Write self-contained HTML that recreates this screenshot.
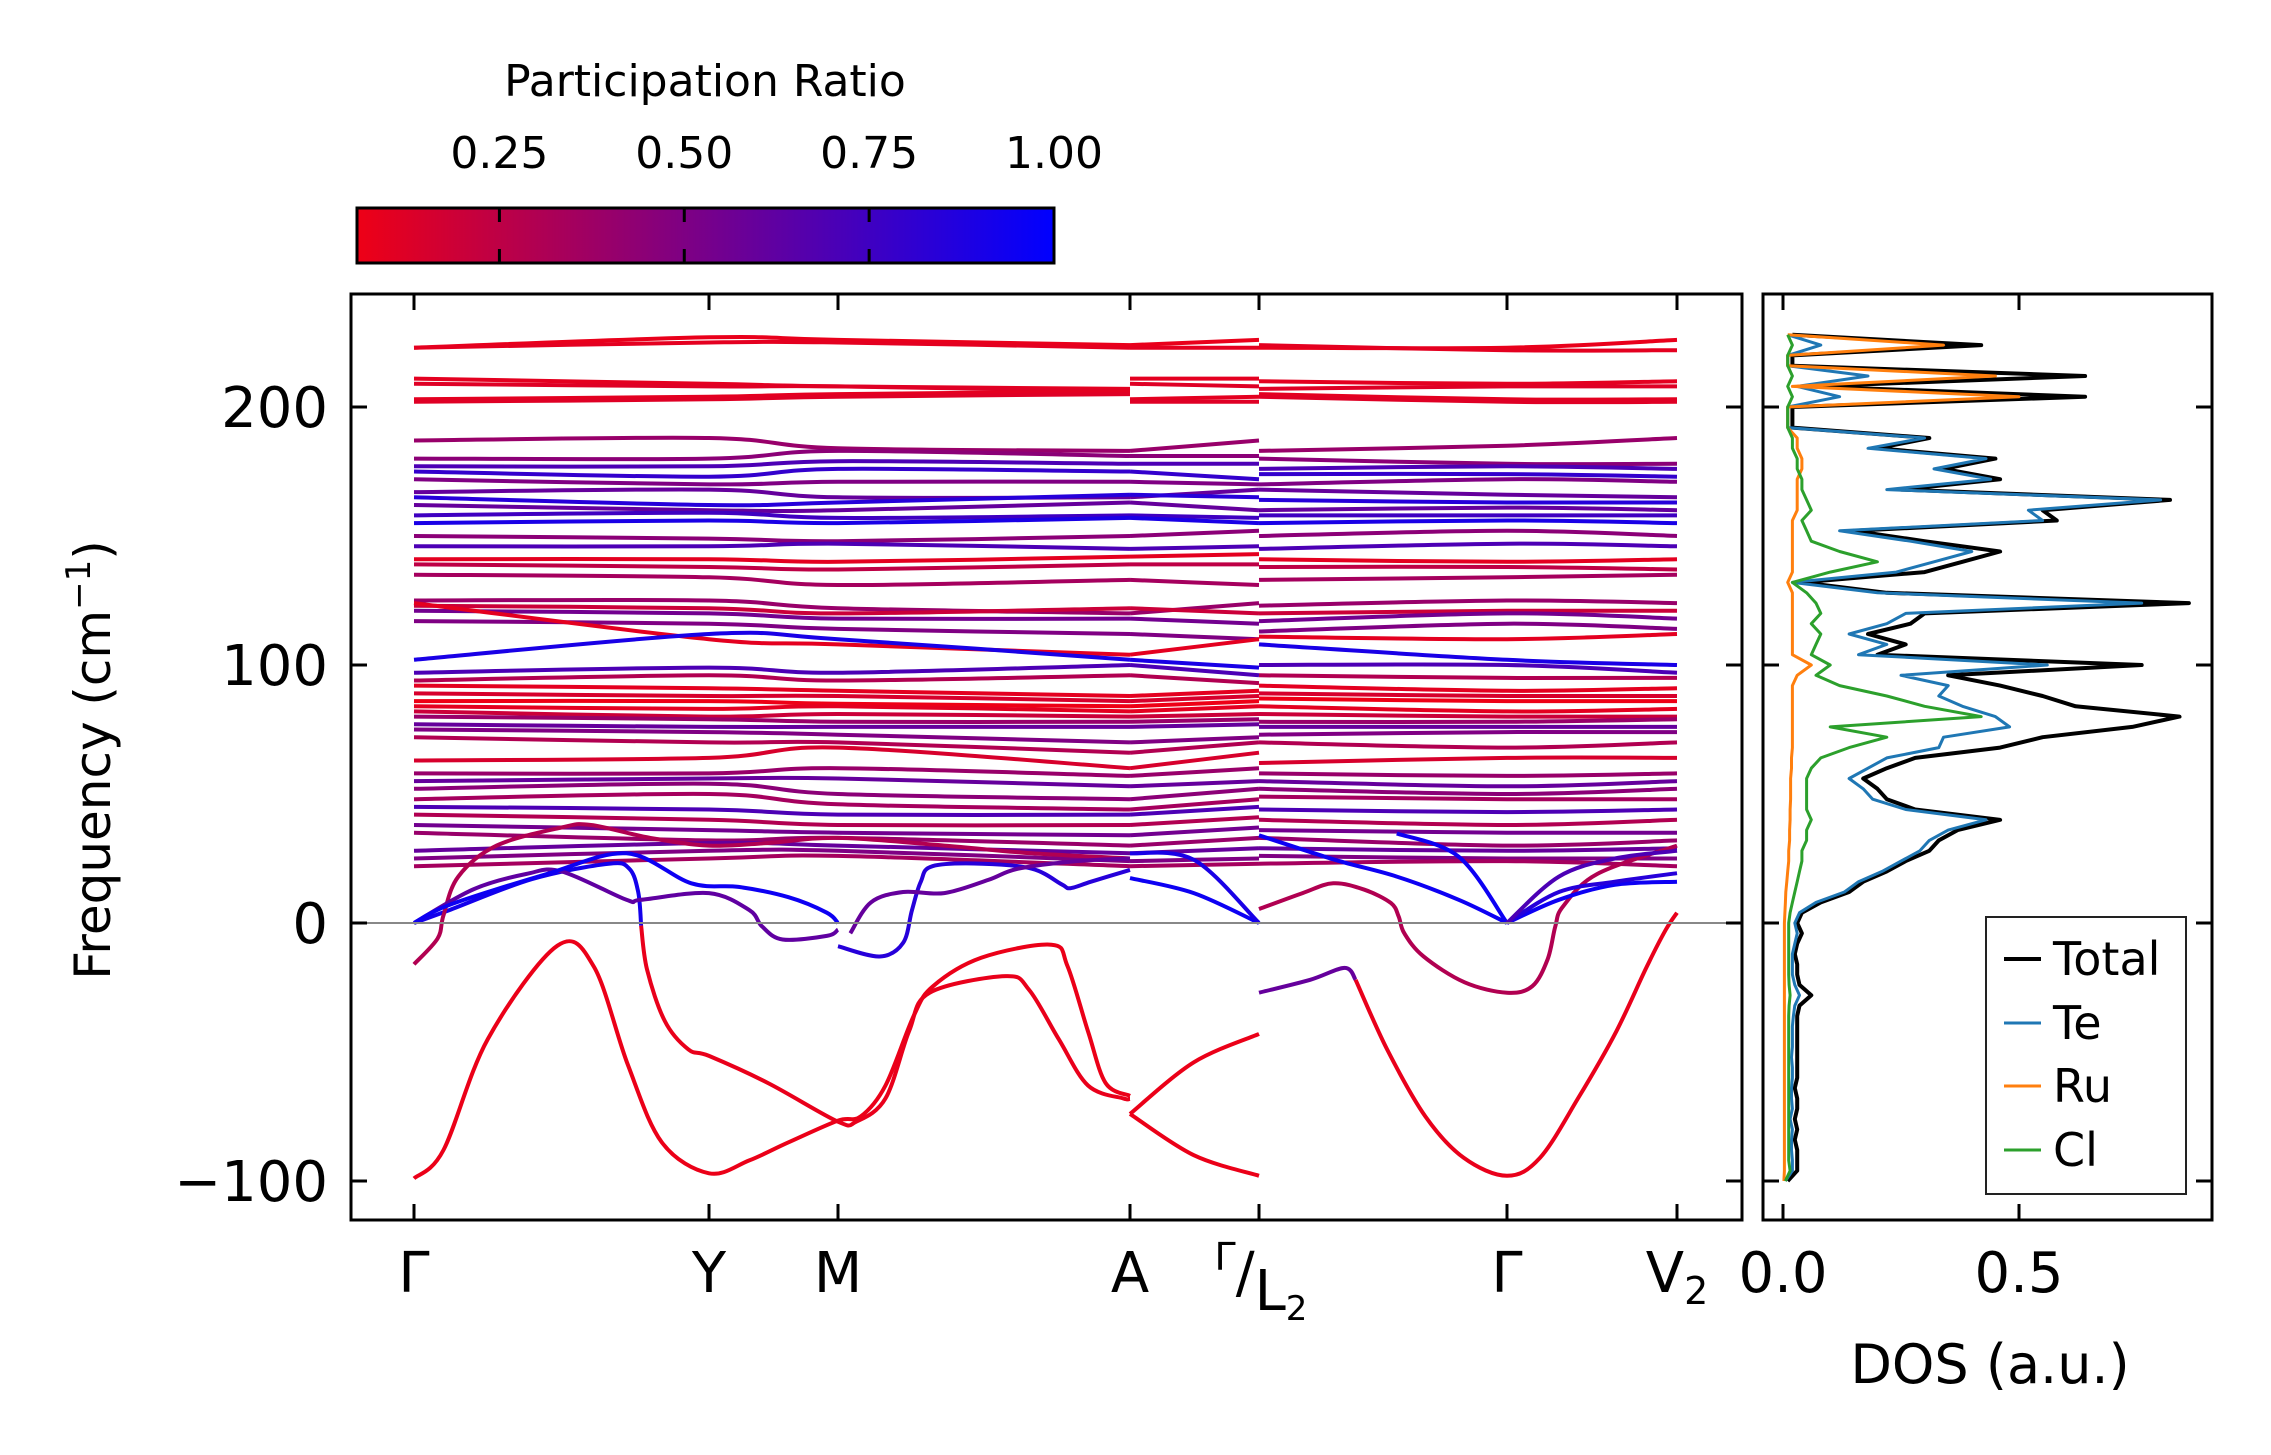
<!DOCTYPE html>
<html><head><meta charset="utf-8"><style>
html,body{margin:0;padding:0;background:#fff;}
svg{display:block;font-family:"DejaVu Sans","Liberation Sans",sans-serif;}
</style></head><body>
<svg id="fig" width="2271" height="1455" viewBox="0 0 2271 1455" xmlns="http://www.w3.org/2000/svg">
<defs>
<linearGradient id="cbgrad" x1="0" x2="1" y1="0" y2="0">
<stop offset="0" stop-color="rgb(238,0,22)"/><stop offset="1" stop-color="rgb(0,0,255)"/>
</linearGradient>
<clipPath id="mainclip"><rect x="352" y="295" width="1389" height="924"/></clipPath>
<clipPath id="dosclip"><rect x="1764" y="295" width="447" height="924"/></clipPath>
</defs>
<g id="colorbar">
<text x="705" y="96" font-size="44" text-anchor="middle">Participation Ratio</text>
<rect x="357" y="208" width="697" height="55" fill="url(#cbgrad)" stroke="#000" stroke-width="3"/>
<g id="cbticks"></g>
</g>
<g id="bands" clip-path="url(#mainclip)"></g>
<line x1="352" x2="1741" y1="923" y2="923" stroke="#888" stroke-width="2"/>
<rect x="351" y="294" width="1391" height="926" fill="none" stroke="#000" stroke-width="3"/>
<g id="mainticks"></g>
<text transform="translate(110,760) rotate(-90)" font-size="50" text-anchor="middle">Frequency (cm<tspan font-size="34" dy="-20">−1</tspan><tspan dy="20">)</tspan></text>
<g id="dos" clip-path="url(#dosclip)"></g>
<rect x="1763" y="294" width="449" height="926" fill="none" stroke="#000" stroke-width="3"/>
<g id="dosticks"></g>
<text x="1990" y="1383" font-size="54" text-anchor="middle">DOS (a.u.)</text>
<g>
<rect x="1986" y="917" width="200" height="277" fill="#fff" stroke="#222" stroke-width="2"/>
<line x1="2004" x2="2041" y1="959" y2="959" stroke="#000" stroke-width="4"/>
<text x="2053" y="975" font-size="46">Total</text>
<line x1="2004" x2="2041" y1="1023" y2="1023" stroke="#1f77b4" stroke-width="3"/>
<text x="2053" y="1039" font-size="46">Te</text>
<line x1="2004" x2="2041" y1="1086" y2="1086" stroke="#ff7f0e" stroke-width="3"/>
<text x="2053" y="1102" font-size="46">Ru</text>
<line x1="2004" x2="2041" y1="1150" y2="1150" stroke="#2ca02c" stroke-width="3"/>
<text x="2053" y="1166" font-size="46">Cl</text>
</g>
</svg>
<script>
// ---- axes data ----
const kTickQ = [0, 1, 1.438, 2.433, 2.872, 3.714, 4.291];
const kTickLabels = ["Γ", "Y", "M", "A", "Γ/L2", "Γ", "V2"];
const freqTicks = [-100, 0, 100, 200];
const freqTickLabels = ["−100", "0", "100", "200"];
const cbTicks = [0.25, 0.5, 0.75, 1.0];
const cbTickLabels = ["0.25", "0.50", "0.75", "1.00"];
const dosTicks = [0, 0.5];
const dosTickLabels = ["0.0", "0.5"];
// knot q per piece for flat bands: [Γ,Y,M,A] [A,L2] [L2,Γ,V2]
const pieceQ = [[0, 1, 1.438, 2.433], [2.433, 2.872], [2.872, 3.714, 4.291]];
// flat bands: 9 values + participation ratio
const flatBands = [
[223,227,226,224,224,226,223,223,226,0.08],[223,225,225,223,223,223,224,222,222,0.1],
[211,209,208,207,211,211,210,209,210,0.1],[209,208,208,206,209,208,207,208,208,0.12],
[203,204,205,206,203,204,205,203,203,0.1],[202,203,204,205,202,202,204,202,202,0.12],
[187,188,184,183,183,187,183,185,188,0.4],[180,180,183,181,181,181,180,178,178,0.45],
[177,177,179,178,178,178,176,177,176,0.7],[175,173,176,175,175,172,174,174,173,0.8],
[172,170,171,171,171,170,170,172,171,0.5],[167,168,165,165,165,168,168,166,165,0.6],
[165,162,163,166,166,165,164,163,163,0.85],[162,160,160,163,163,160,160,161,160,0.6],
[158,159,157,158,158,157,158,158,158,0.75],[155,156,155,157,157,155,155,156,155,0.9],
[150,149,148,150,150,152,150,152,150,0.45],[146,146,147,145,145,146,145,147,146,0.7],
[141,141,140,142,142,143,141,140,141,0.1],[139,138,137,139,139,139,138,138,137,0.25],
[135,134,131,133,133,131,133,134,135,0.35],[125,125,122,120,120,124,123,125,124,0.4],
[123,122,120,122,122,120,120,121,121,0.2],[121,120,118,118,118,116,117,120,118,0.55],
[117,116,114,112,112,110,113,116,114,0.5],[124,110,108,104,104,110,111,110,112,0.1],
[102,112,110,102,102,99,108,102,100,0.9],[97,99,97,100,100,96,100,100,97,0.7],
[94,96,94,96,96,93,96,95,95,0.3],[92,91,90,88,88,90,92,90,91,0.1],
[89,88,88,86,86,88,89,88,88,0.15],[86,86,85,84,84,86,87,86,86,0.05],
[84,83,84,82,82,84,84,82,83,0.1],[82,80,81,80,80,81,81,80,80,0.2],
[80,79,78,78,78,79,78,78,79,0.4],[77,76,76,76,76,77,76,76,76,0.6],
[75,74,73,70,70,72,73,74,74,0.5],[72,70,70,66,66,70,70,68,70,0.3],
[63,64,68,60,60,66,62,64,64,0.15],[58,58,60,57,57,60,58,57,58,0.4],
[55,56,56,53,53,55,55,53,55,0.6],[52,54,50,48,48,52,52,50,52,0.45],
[48,50,46,44,44,48,49,48,48,0.35],[45,44,42,42,42,45,44,43,44,0.7],
[42,40,38,38,38,41,40,38,40,0.3],[38,36,35,34,34,37,36,35,35,0.55],
[35,32,33,30,30,33,33,30,32,0.4],[28,31,30,27,27,29,29,28,29,0.6],
[25,28,28,24,24,25,26,25,25,0.5],[22,25,26,22,22,23,23,24,22,0.35]
];
// dispersive low bands
const lowQ1 = [0,0.1,0.25,0.486,0.61,0.725,0.84,1,1.137,1.27,1.438,1.515,1.6,1.696,1.762,1.926,2.165,2.22,2.29,2.35,2.433];
const lowF1 = [-99,-88,-45,-8.8,-17,-55,-85,-97,-92,-85,-76.6,-75,-63,-36,-24.5,-13.5,-8.4,-16.7,-42,-62,-67];
const lowQ2a = [0,0.12,0.4,0.66,0.73,0.76,0.77];
const lowF2a = [0,5,17,23,21,12,-1];
const lowQ2b = [0.77,0.79,0.85,0.93,1,1.2,1.438,1.5,1.6,1.68,1.75,2.01,2.09,2.19,2.29,2.41,2.433];
const lowF2b = [-1,-18,-38,-49,-51.5,-62,-77,-77,-68,-42,-27,-20.6,-26,-45,-63,-68,-68];
const lowQ3 = [0,0.08,0.1,0.15,0.28,0.5,0.6,0.8,1,1.2,1.438,1.8,2.1,2.433];
const lowF3 = [-16,-6,3,18,30,37,38,33,30,31,33,30,27,25];
const lowQ4 = [0,0.2,0.38,0.5,0.72,0.77,1,1.137,1.18,1.25,1.4,1.438];
const lowF4 = [0,13,19,20,9,9,11.6,5,-1.3,-6.4,-5,-2.6];
const lowQ5 = [0,0.12,0.45,0.72,0.94,1.1,1.27,1.4,1.438];
const lowF5 = [0,7,19,27,15.4,14,10,4,0];
const lowQ6 = [1.438,1.58,1.66,1.69,1.72,1.76,1.93,2.1,2.2,2.23,2.3,2.433];
const lowF6 = [-9,-13,-7.7,5,16,22,23,21,15,13.5,16,20.6];
const lowQ7 = [1.48,1.55,1.66,1.8,1.95,2.05,2.25,2.433];
const lowF7 = [-4,8,12,11.6,16.7,21,24,25];
const lowQ8 = [2.433,2.65,2.872];
const lowF8a = [-74,-54,-43];
const lowF8b = [-74,-90,-98];
const lowF8c = [17.4,11.6,0];
const lowF8d = [27,24.5,0];
const lowQ9a = [2.872,3.046,3.163,3.2];
const lowF9a = [-27,-22,-17.4,-22];
const lowQ9b = [3.2,3.307,3.437,3.567,3.714,3.826,3.955,4.085,4.188,4.253,4.291];
const lowF9b = [-22,-49,-75,-91,-98,-91,-68,-42,-17,-2.6,4];
const lowQ10 = [2.872,3.02,3.124,3.23,3.32,3.346,3.365,3.43,3.57,3.714,3.8,3.852,3.878,3.904,4.02,4.291];
const lowF10 = [5.4,11.6,15.4,12.9,7.7,2.6,-3.9,-12.9,-23,-27,-24.5,-14,-1.3,6.4,19,30];
const lowQ11 = [2.872,3.13,3.34,3.55,3.714];
const lowF11a = [34,24.5,18,9,0];
const lowQ11b = [3.34,3.55,3.714];
const lowF11b = [34.7,25.7,0];
const lowQ12 = [3.714,3.89,4.08,4.291];
const lowF12a = [0,9,14.8,16];
const lowF12b = [0,12,16,19.3];
const lowF12c = [0,18,25,28];
const lowBands = [
[lowQ1,lowF1,0.07],[lowQ2a,lowF2a,0.92],[lowQ2b,lowF2b,0.08],[lowQ3,lowF3,0.3],
[lowQ4,lowF4,0.62],[lowQ5,lowF5,0.95],[lowQ6,lowF6,0.85],[lowQ7,lowF7,0.6],
[lowQ8,lowF8a,0.07],[lowQ8,lowF8b,0.07],[lowQ8,lowF8c,0.95],[lowQ8,lowF8d,0.9],
[lowQ9a,lowF9a,0.6],[lowQ9b,lowF9b,0.08],[lowQ10,lowF10,0.3],
[lowQ11,lowF11a,0.95],[lowQ11b,lowF11b,0.95],
[lowQ12,lowF12a,0.95],[lowQ12,lowF12b,0.85],[lowQ12,lowF12c,0.7]
];
// DOS data (freq grid -100..228 step 4)
const dosNeg = 25;
const dosTotal = [0.01,0.03,0.03,0.03,0.025,0.03,0.025,0.03,0.03,0.025,0.03,0.03,0.03,0.03,0.03,0.03,0.03,0.035,0.06,0.035,0.03,0.03,0.025,0.03,0.04,
0.03,0.04,0.08,0.14,0.17,0.22,0.26,0.31,0.33,0.37,0.46,0.28,0.22,0.20,0.17,0.22,0.28,0.46,0.55,0.74,0.84,0.62,0.55,0.46,0.35,0.76,0.20,0.26,0.18,0.27,0.30,0.86,0.22,0.04,0.30,0.38,0.46,0.30,0.15,0.58,0.55,0.82,0.25,0.46,0.34,0.45,0.20,0.31,0.02,0.02,0.02,0.64,0.06,0.64,0.02,0.02,0.42,0.02];
const dosTe = [0.005,0.02,0.02,0.018,0.018,0.02,0.015,0.02,0.018,0.018,0.02,0.02,0.018,0.02,0.02,0.02,0.022,0.025,0.035,0.025,0.02,0.02,0.02,0.025,0.03,
0.025,0.035,0.07,0.13,0.16,0.21,0.25,0.29,0.31,0.35,0.43,0.26,0.19,0.17,0.14,0.18,0.22,0.33,0.34,0.48,0.45,0.38,0.33,0.35,0.25,0.56,0.16,0.22,0.14,0.22,0.26,0.76,0.20,0.02,0.24,0.32,0.40,0.27,0.12,0.55,0.52,0.80,0.22,0.44,0.32,0.43,0.18,0.30,0.01,0.01,0.01,0.12,0.03,0.18,0.01,0.01,0.08,0.01];
const dosRu = [0.002,0.003,0.003,0.003,0.003,0.003,0.003,0.003,0.003,0.003,0.003,0.003,0.003,0.003,0.003,0.003,0.003,0.003,0.003,0.003,0.003,0.003,0.003,0.003,0.003,
0.003,0.004,0.005,0.006,0.008,0.01,0.012,0.012,0.014,0.014,0.015,0.015,0.016,0.016,0.016,0.018,0.018,0.02,0.02,0.02,0.02,0.02,0.02,0.02,0.03,0.06,0.02,0.02,0.02,0.02,0.02,0.02,0.02,0.01,0.02,0.02,0.02,0.02,0.02,0.02,0.03,0.03,0.03,0.03,0.04,0.04,0.03,0.03,0.01,0.01,0.01,0.50,0.02,0.45,0.01,0.01,0.34,0.01];
const dosCl = [0.005,0.015,0.012,0.012,0.012,0.012,0.012,0.012,0.012,0.012,0.012,0.012,0.012,0.012,0.012,0.012,0.012,0.013,0.015,0.013,0.012,0.012,0.012,0.012,0.012,
0.012,0.015,0.02,0.025,0.03,0.035,0.04,0.04,0.05,0.05,0.06,0.05,0.05,0.05,0.05,0.06,0.08,0.14,0.22,0.10,0.42,0.30,0.22,0.12,0.07,0.10,0.06,0.07,0.08,0.06,0.08,0.07,0.05,0.02,0.10,0.20,0.12,0.06,0.05,0.04,0.06,0.05,0.04,0.04,0.03,0.03,0.02,0.02,0.01,0.01,0.01,0.02,0.01,0.02,0.01,0.01,0.02,0.01];

// ---- scales ----
const NS = "http://www.w3.org/2000/svg";
const kTickPx = [414, 709, 838, 1130, 1259, 1507, 1677];
function xK(q){
  for (let i=0;i<kTickQ.length-1;i++){
    if (q<=kTickQ[i+1] || i===kTickQ.length-2){
      const t=(q-kTickQ[i])/(kTickQ[i+1]-kTickQ[i]);
      return kTickPx[i]+t*(kTickPx[i+1]-kTickPx[i]);
    }
  }
}
function yF(f){ return 923 - f*2.58; }
function xD(v){ return 1783 + v*472; }
function xCB(v){ return 357 + (v-0.0574)/(1-0.0574)*697; }
function prColor(p){
  const t=Math.max(0,Math.min(1,(p-0.06)/0.94));
  return "rgb("+Math.round(238*(1-t))+",0,"+Math.round(22+233*t)+")";
}
function mk(tag, parent){ const e=document.createElementNS(NS,tag); parent.appendChild(e); return e; }
function smoothPath(pts){
  let d="M"+pts[0][0].toFixed(1)+","+pts[0][1].toFixed(1);
  for(let i=0;i<pts.length-1;i++){
    const p0=pts[Math.max(0,i-1)],p1=pts[i],p2=pts[i+1],p3=pts[Math.min(pts.length-1,i+2)];
    const c1x=p1[0]+(p2[0]-p0[0])/6,c1y=p1[1]+(p2[1]-p0[1])/6;
    const c2x=p2[0]-(p3[0]-p1[0])/6,c2y=p2[1]-(p3[1]-p1[1])/6;
    d+=" C"+c1x.toFixed(1)+","+c1y.toFixed(1)+" "+c2x.toFixed(1)+","+c2y.toFixed(1)+" "+p2[0].toFixed(1)+","+p2[1].toFixed(1);
  }
  return d;
}
const bandsG=document.getElementById('bands');
function drawBand(qs, fs, pr, name){
  const pts=qs.map((q,i)=>[xK(q), yF(fs[i])]);
  const p=mk('path',bandsG);
  p.setAttribute('d',smoothPath(pts));
  p.setAttribute('fill','none');
  p.setAttribute('stroke',prColor(pr));
  p.setAttribute('stroke-width','4');
  
  
}
flatBands.forEach((b,bi)=>{
  let k=0;
  pieceQ.forEach((qs,pi)=>{
    const fs=b.slice(k,k+qs.length); k+=qs.length;
    drawBand(qs, fs, b[9], 'band-'+bi+'-piece-'+pi);
  });
});
lowBands.forEach((b,bi)=>drawBand(b[0], b[1], b[2], 'low-band-'+bi));

// ---- main ticks ----
const mt=document.getElementById('mainticks');
function tick(parent,x1,y1,x2,y2,name){
  const l=mk('line',parent);
  l.setAttribute('x1',x1);l.setAttribute('y1',y1);l.setAttribute('x2',x2);l.setAttribute('y2',y2);
  l.setAttribute('stroke','#000');l.setAttribute('stroke-width','3');
  
  
}
function label(parent,x,y,txt,size,anchor,name){
  const t=mk('text',parent);
  t.setAttribute('x',x);t.setAttribute('y',y);t.setAttribute('font-size',size);t.setAttribute('text-anchor',anchor);
  t.textContent=txt;
  
  
  return t;
}
freqTicks.forEach((f,i)=>{
  const y=yF(f);
  tick(mt,351,y,367,y,'y-tick-left');
  tick(mt,1726,y,1742,y,'y-tick-right');
  label(mt,328,y+20,freqTickLabels[i],56,'end','y-tick-label');
});
kTickQ.forEach((q,i)=>{
  const x=xK(q);
  tick(mt,x,1220,x,1204,'x-tick-bottom');
  tick(mt,x,294,x,310,'x-tick-top');
  const lab=kTickLabels[i];
  if(lab==="Γ/L2"){
    const t=label(mt,x+2,1292,'',56,'middle','x-tick-label-gamma-l2');
    t.innerHTML='<tspan font-size="38" dy="-22">Γ</tspan><tspan dy="22">/</tspan><tspan dy="18">L</tspan><tspan font-size="34" dy="10">2</tspan>';
  } else if(lab==="V2"){
    const t=label(mt,x,1292,'',56,'middle','x-tick-label-v2');
    t.innerHTML='V<tspan font-size="38" dy="12">2</tspan>';
  } else {
    label(mt,x,1292,lab,56,'middle','x-tick-label');
  }
});
// ---- colorbar ticks ----
const cbt=document.getElementById('cbticks');
cbTicks.forEach((v,i)=>{
  const x=xCB(v);
  if(v<1){ tick(cbt,x,208,x,222,'colorbar-tick'); tick(cbt,x,249,x,263,'colorbar-tick'); }
  label(cbt,x,168,cbTickLabels[i],44,'middle','colorbar-tick-label');
});
// ---- DOS ----
const dg=document.getElementById('dos');
function drawDos(vals,color,w,name){
  const pts=vals.map((v,i)=>{
    const f = i<dosNeg ? -100+4*i : 4*(i-dosNeg);
    return xD(v).toFixed(1)+","+yF(f).toFixed(1);
  });
  const p=mk('polyline',dg);
  p.setAttribute('points',pts.join(' '));
  p.setAttribute('fill','none');p.setAttribute('stroke',color);p.setAttribute('stroke-width',w);
  p.setAttribute('stroke-linejoin','round');
  
  
}
drawDos(dosTotal,'#000',4,'dos-total-line');
drawDos(dosTe,'#1f77b4',3,'dos-te-line');
drawDos(dosRu,'#ff7f0e',3,'dos-ru-line');
drawDos(dosCl,'#2ca02c',3,'dos-cl-line');
const dt=document.getElementById('dosticks');
dosTicks.forEach((v,i)=>{
  const x=xD(v);
  tick(dt,x,1220,x,1204,'dos-x-tick-bottom');
  tick(dt,x,294,x,310,'dos-x-tick-top');
  label(dt,x,1292,dosTickLabels[i],56,'middle','dos-x-tick-label');
});
freqTicks.forEach(f=>{
  const y=yF(f);
  tick(dt,1763,y,1779,y,'dos-y-tick-left');
  tick(dt,2196,y,2212,y,'dos-y-tick-right');
});
</script>
</body></html>
